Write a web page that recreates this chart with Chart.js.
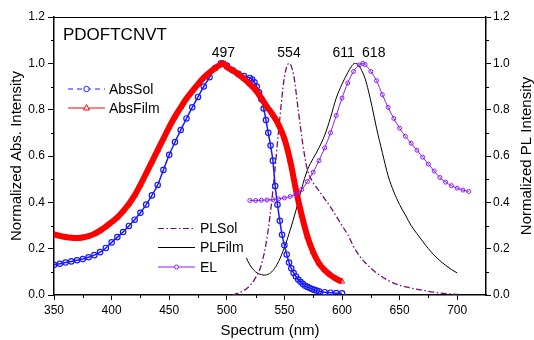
<!DOCTYPE html>
<html><head><meta charset="utf-8">
<script src="https://cdn.jsdelivr.net/npm/chart.js@4.4.1/dist/chart.umd.min.js"></script>
<style>html,body{margin:0;padding:0;background:#fff;}#c{display:block;}</style>
</head><body>
<canvas id="c" width="534" height="340"></canvas>
<script>
// ---------- data ----------
const absSolWl = [350,355,360,365,370,375,380,385,390,395,400,405,410,415,420,425,430,435,440,445,450,455,460,465,470,475,480,485,490,495,500,505,510,515,520,
  522,524,526,528,530,532,534,536,538,540,542,544,546,548,550,552,554,556,558,560,562,564,566,568,570,572,574,576,578,580,585,590,595,600];
const absSolVal = [0.130,0.135,0.140,0.145,0.150,0.155,0.163,0.172,0.185,0.203,0.227,0.250,0.272,0.298,0.325,0.355,0.390,0.430,0.475,0.540,0.605,0.660,0.712,0.762,0.810,0.855,0.900,0.940,0.980,1.000,0.990,0.970,0.955,0.945,0.937,
  0.930,0.918,0.900,0.875,0.845,0.805,0.755,0.700,0.645,0.580,0.470,0.390,0.320,0.260,0.215,0.175,0.140,0.115,0.095,0.080,0.067,0.057,0.048,0.040,0.035,0.030,0.026,0.022,0.019,0.016,0.012,0.010,0.008,0.007];

const absFilmWl = [350,355,360,365,370,375,380,385,390,395,400,405,410,415,420,425,430,435,440,445,450,455,460,465,470,475,480,485,490,495,497,500,505,510,515,520,525,530,535,540,545,550,555,560,565,570,575,580,585,590,595,600];
const absFilmVal = [0.262,0.255,0.250,0.247,0.246,0.248,0.254,0.264,0.278,0.295,0.315,0.335,0.362,0.393,0.430,0.475,0.525,0.575,0.625,0.675,0.725,0.770,0.810,0.848,0.880,0.910,0.938,0.960,0.980,0.995,1.000,0.985,0.970,0.953,0.933,0.910,0.885,0.850,0.812,0.778,0.735,0.675,0.580,0.455,0.345,0.252,0.185,0.137,0.107,0.086,0.070,0.058];

const plSolWl = [505,510,515,520,525,530,535,540,545,550,554,558,562,566,570,575,580,585,590,595,600,605,610,615,620,630,640,650,660,670,680,690,700];
const plSolVal = [0.000,0.008,0.020,0.040,0.075,0.130,0.250,0.450,0.710,0.940,1.000,0.950,0.800,0.650,0.540,0.485,0.450,0.415,0.380,0.340,0.300,0.260,0.210,0.170,0.140,0.095,0.063,0.042,0.030,0.020,0.012,0.006,0.003];

const plFilmWl = [517,520,525,530,533,536,540,545,550,555,560,565,570,575,580,585,590,595,600,605,608,611,614,617,620,623,626,630,635,640,645,650,655,660,665,670,675,680,685,690,695,700];
const plFilmVal = [0.160,0.130,0.100,0.088,0.086,0.090,0.105,0.145,0.205,0.280,0.365,0.460,0.540,0.590,0.635,0.690,0.765,0.850,0.910,0.960,0.985,1.000,0.995,0.970,0.935,0.880,0.815,0.720,0.615,0.515,0.445,0.390,0.345,0.300,0.265,0.232,0.200,0.172,0.148,0.128,0.110,0.095];

const elWl = [520,525,530,535,540,545,550,555,560,565,570,575,580,585,590,595,600,605,610,615,618,620,625,630,635,640,645,650,655,660,665,670,675,680,685,690,695,700,705,710];
const elVal = [0.408,0.408,0.409,0.410,0.412,0.415,0.419,0.425,0.435,0.455,0.490,0.530,0.580,0.635,0.700,0.775,0.850,0.915,0.965,0.993,1.000,0.995,0.965,0.925,0.865,0.810,0.762,0.720,0.685,0.655,0.625,0.595,0.565,0.535,0.507,0.487,0.472,0.461,0.453,0.447];

const seriesNames = ['AbsSol','AbsFilm','PLSol','PLFilm','EL'];
const peakWl = [497, 554, 611, 618];
const xTickMin = 350, xTickMax = 725, xStep = 25;
const yTickMin = 0, yTickMax = 1.2, yStep = 0.1;
const chartTitle = 'PDOFTCNVT';
const xTitle = 'Spectrum (nm)';
const yTitle = 'Normalized Abs. Intensity';
const y2Title = 'Normalized PL Intensity';

// ---------- chart ----------
const FONT = 'Arial, "Liberation Sans", Helvetica, sans-serif';
const C_SOL = '#1a1aff', C_FILM = '#ff0000', C_PLSOL = '#7a0a7a', C_PLFILM = '#000000', C_EL = '#8c1aff';
function pts(w, v){ return w.map((x, i) => ({x: x, y: v[i]})); }
const isMajorY = v => Math.round(v * 10) % 2 === 0;
const isMajorX = v => Math.round(v) % 50 === 0;

const decor = {
  id: 'decor',
  afterDraw(chart){
    const ctx = chart.ctx, a = chart.chartArea;
    const xs = chart.scales.x, ys = chart.scales.y;
    ctx.save();
    ctx.strokeStyle = '#000';
    ctx.lineWidth = 1;
    ctx.beginPath(); ctx.moveTo(a.left, a.top + 0.5); ctx.lineTo(a.right, a.top + 0.5); ctx.stroke();
    ctx.beginPath();
    xs.ticks.forEach(t => { if (!isMajorX(t.value) && t.value < xTickMax) { const px = Math.round(xs.getPixelForValue(t.value)) + 0.5; ctx.moveTo(px, a.bottom); ctx.lineTo(px, a.bottom + 3); } });
    ys.ticks.forEach(t => { if (!isMajorY(t.value)) { const py = Math.round(ys.getPixelForValue(t.value)) + 0.5; ctx.moveTo(a.left - 3, py); ctx.lineTo(a.left, py); ctx.moveTo(a.right, py); ctx.lineTo(a.right + 3, py); } });
    ctx.stroke();
    ctx.fillStyle = '#000';
    ctx.font = '17px ' + FONT; ctx.textAlign = 'left'; ctx.textBaseline = 'alphabetic';
    ctx.fillText(chartTitle, a.left + 9, a.top + 23);
    ctx.font = '14px ' + FONT; ctx.textAlign = 'center';
    const dx = [0, 0, -11, 11];
    peakWl.forEach((p, i) => { ctx.fillText(String(p), xs.getPixelForValue(p) + dx[i], ys.getPixelForValue(1.0) - 6); });
    ctx.save();
    ctx.translate(527, (a.top + a.bottom) / 2); ctx.rotate(-Math.PI / 2);
    ctx.font = '15px ' + FONT; ctx.textAlign = 'center'; ctx.textBaseline = 'middle';
    ctx.fillText(y2Title, 0, 0);
    ctx.restore();
    const ds = chart.data.datasets;
    function row(d, x0, x1, y, tx, dash, marker){
      ctx.save();
      ctx.strokeStyle = d.borderColor; ctx.lineWidth = 1; ctx.setLineDash(dash);
      ctx.beginPath(); ctx.moveTo(x0, y + 0.5); ctx.lineTo(x1, y + 0.5); ctx.stroke();
      ctx.setLineDash([]);
      const cx = (x0 + x1) / 2;
      if (marker === 'circle') { ctx.fillStyle = '#fff'; ctx.beginPath(); ctx.arc(cx, y + 0.5, d.pointRadius, 0, Math.PI * 2); ctx.fill(); ctx.stroke(); }
      if (marker === 'triangle') { ctx.fillStyle = '#fff'; ctx.beginPath(); ctx.moveTo(cx, y - 3); ctx.lineTo(cx + 3, y + 2.5); ctx.lineTo(cx - 3, y + 2.5); ctx.closePath(); ctx.fill(); ctx.stroke(); }
      ctx.fillStyle = '#000'; ctx.font = '14px ' + FONT; ctx.textAlign = 'left'; ctx.textBaseline = 'alphabetic';
      ctx.fillText(d.label, tx, y + 5);
      ctx.restore();
    }
    row(ds[0], 68, 105, 88.5, 109, [5, 4], 'circle');
    row(ds[1], 68, 105, 107.5, 109, [], 'triangle');
    row(ds[2], 158, 195, 228, 200, [6, 2.5, 1.5, 2.5], null);
    row(ds[3], 158, 195, 247, 200, [], null);
    row(ds[4], 158, 195, 266.5, 200, [], 'circle');
    ctx.restore();
  }
};

new Chart(document.getElementById('c'), {
  type: 'line',
  data: {
    datasets: [
      { label: seriesNames[0], data: pts(absSolWl, absSolVal), yAxisID: 'y', borderColor: C_SOL, borderWidth: 1.5, pointStyle: 'circle', pointRadius: 2.7, pointBorderWidth: 1.2, pointBorderColor: C_SOL, pointBackgroundColor: 'rgba(255,255,255,0)', cubicInterpolationMode: 'monotone', order: 2 },
      { label: seriesNames[1], data: pts(absFilmWl, absFilmVal), yAxisID: 'y', borderColor: C_FILM, borderWidth: 6, pointStyle: 'triangle', pointRadius: 3, pointBorderWidth: 1, pointBorderColor: C_FILM, pointBackgroundColor: 'rgba(255,255,255,0)', cubicInterpolationMode: 'monotone', order: 1 },
      { label: seriesNames[2], data: pts(plSolWl, plSolVal), yAxisID: 'y2', borderColor: C_PLSOL, borderWidth: 1.3, borderDash: [6, 2.5, 1.5, 2.5], pointRadius: 0, cubicInterpolationMode: 'monotone', order: 3 },
      { label: seriesNames[3], data: pts(plFilmWl, plFilmVal), yAxisID: 'y2', borderColor: C_PLFILM, borderWidth: 1, pointRadius: 0, cubicInterpolationMode: 'monotone', order: 4 },
      { label: seriesNames[4], data: pts(elWl, elVal), yAxisID: 'y2', borderColor: C_EL, borderWidth: 1, pointStyle: 'circle', pointRadius: 2, pointBorderWidth: 1, pointBorderColor: C_EL, pointBackgroundColor: 'rgba(255,255,255,0)', cubicInterpolationMode: 'monotone', order: 0 }
    ]
  },
  options: {
    responsive: false, animation: false, devicePixelRatio: 1,
    layout: { padding: { top: 17, left: 0, right: 0, bottom: 0 } },
    plugins: { legend: { display: false }, tooltip: { enabled: false }, title: { display: false } },
    scales: {
      x: {
        type: 'linear', position: 'bottom', min: xTickMin, max: xTickMax,
        afterFit: s => { s.height = 45; },
        ticks: { stepSize: xStep, autoSkip: false, maxRotation: 0, padding: 3, color: '#000', font: { family: FONT, size: 12 },
          callback: v => isMajorX(v) ? String(Math.round(v)) : '' },
        grid: { drawOnChartArea: false, drawTicks: true, tickLength: 5, tickWidth: 1, tickColor: c => (c.tick && isMajorX(c.tick.value) && c.tick.value < xTickMax) ? '#000' : 'rgba(0,0,0,0)' },
        border: { display: true, color: '#000', width: 1.5 },
        title: { display: true, text: xTitle, color: '#000', font: { family: FONT, size: 15 }, padding: { top: 0, bottom: 0 } }
      },
      y: {
        type: 'linear', position: 'left', min: yTickMin, max: yTickMax,
        afterFit: s => { s.width = 54; },
        ticks: { stepSize: yStep, autoSkip: false, padding: 3, color: '#000', font: { family: FONT, size: 12 },
          callback: v => isMajorY(v) ? v.toFixed(1) : '' },
        grid: { drawOnChartArea: false, drawTicks: true, tickLength: 6, tickWidth: 1, tickColor: c => (c.tick && isMajorY(c.tick.value)) ? '#000' : 'rgba(0,0,0,0)' },
        border: { display: true, color: '#000', width: 1.5 },
        title: { display: true, text: yTitle, color: '#000', font: { family: FONT, size: 15 }, padding: { top: 8, bottom: 0 } }
      },
      y2: {
        type: 'linear', position: 'right', min: yTickMin, max: yTickMax,
        afterFit: s => { s.width = 48; },
        ticks: { stepSize: yStep, autoSkip: false, padding: 2, color: '#000', font: { family: FONT, size: 12 },
          callback: v => isMajorY(v) ? v.toFixed(1) : '' },
        grid: { drawOnChartArea: false, drawTicks: true, tickLength: 5, tickWidth: 1, tickColor: c => (c.tick && isMajorY(c.tick.value)) ? '#000' : 'rgba(0,0,0,0)' },
        border: { display: true, color: '#000', width: 1.5 },
        title: { display: false }
      }
    }
  },
  plugins: [decor]
});
</script>
</body></html>
